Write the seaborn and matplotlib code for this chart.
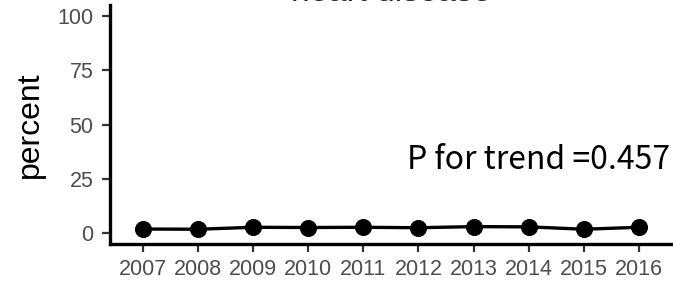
import matplotlib
matplotlib.use("Agg")
import matplotlib.pyplot as plt
import seaborn as sns
import pandas as pd

# data
years = ["2007", "2008", "2009", "2010", "2011", "2012", "2013", "2014", "2015", "2016"]
percent = [1.9, 1.8, 2.7, 2.6, 2.7, 2.5, 3.0, 2.9, 1.8, 2.7]
p_trend = "0.457"

df = pd.DataFrame({"year": years, "percent": percent})

sns.set_style("ticks")
plt.rcParams["font.family"] = ["Liberation Sans", "DejaVu Sans"]

fig = plt.figure(figsize=(6.73, 2.84), dpi=100)
ax = fig.add_axes([0.1634, 0.1408, 0.835, 0.8415])

sns.lineplot(data=df, x="year", y="percent", color="black", marker="o",
             markersize=11.5, linewidth=2.4, markeredgecolor="black", ax=ax, sort=False)

# ggplot-style expansion
ax.set_xlim(-0.6, 9.6)
ax.set_ylim(-5, 105)
ax.set_yticks([0, 25, 50, 75, 100])
ax.set_xlabel("")
ax.set_ylabel("percent", fontsize=23, color="black", labelpad=9)

for s in ["top", "right"]:
    ax.spines[s].set_visible(False)
for s in ["left", "bottom"]:
    ax.spines[s].set_linewidth(2.4)
    ax.spines[s].set_color("black")

ax.tick_params(axis="both", length=6, width=1.6, color="#333333",
               labelsize=15.5, labelcolor="#4D4D4D")
ax.tick_params(axis="x", pad=5)
ax.tick_params(axis="y", pad=6)

ax.text(9.56, 33.6, "P for trend =" + p_trend, ha="right", va="center", fontsize=23,
        family=["Noto Sans CJK JP", "DejaVu Sans"], color="black")

ax.set_title("heart disease", fontsize=24, y=1.0, pad=3)

fig.savefig("out.png", dpi=100)
